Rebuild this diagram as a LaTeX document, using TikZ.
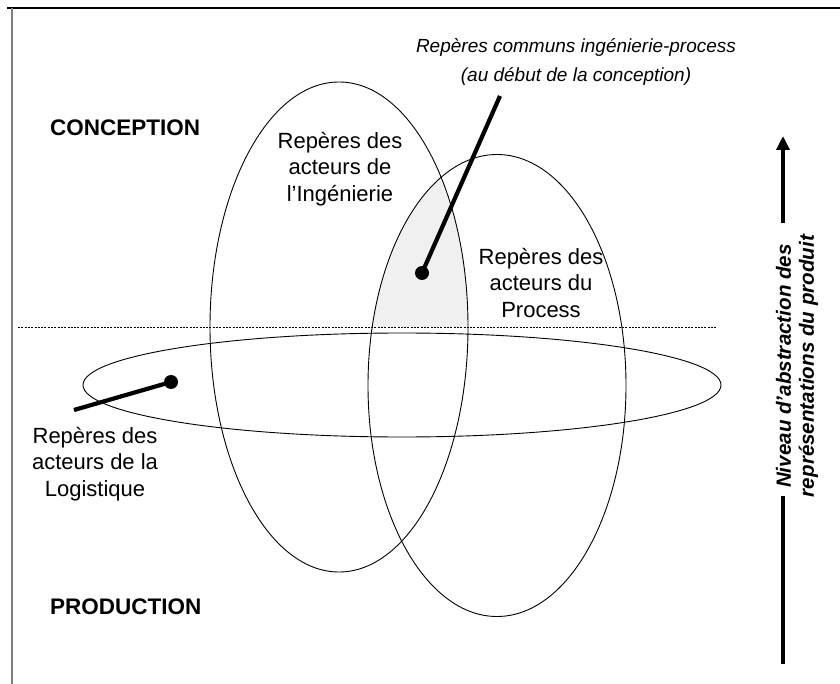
\documentclass[tikz,border=0pt]{standalone}
\usepackage{fontspec}
\setmainfont{Liberation Sans}
\usetikzlibrary{arrows.meta}
\definecolor{shadegray}{HTML}{F0F0F0}
\begin{document}
\begin{tikzpicture}[x=1pt,y=-1pt,
  ell/.style={draw, line width=0.9pt},
  lbl/.style={align=center, font=\fontsize{22}{26.3}\selectfont, inner sep=0pt},
  big/.style={font=\bfseries\fontsize{22.5}{26}\selectfont, inner sep=0pt, anchor=west},
  dot/.style={circle, fill=black, minimum size=14pt, inner sep=0pt},
  pointer/.style={line width=4.2pt},
  sep/.style={line width=0.9pt, dash pattern=on 2pt off 1.3pt},
  axis/.style={line width=3.4pt}]
\useasboundingbox (0,0) rectangle (840,684);
% frame
\coordinate (f1) at (7,8); \coordinate (f2) at (840,8);
\coordinate (f3) at (12,8); \coordinate (f4) at (12,684);
\draw[line width=1.2pt] (f1) -- (f2);
\draw[gray, line width=1.4pt] (f3) -- (f4);
% shaded common region
\begin{scope}
  \clip (339,327) ellipse [x radius=129pt, y radius=245pt];
  \clip (497,385.5) ellipse [x radius=129pt, y radius=231pt];
  \fill[shadegray] (300,100) rectangle (520,327);
\end{scope}
% ellipses
\draw[ell] (339,327) ellipse [x radius=129pt, y radius=245pt];
\draw[ell] (497,385.5) ellipse [x radius=129pt, y radius=231pt];
\draw[ell] (402,385) ellipse [x radius=319pt, y radius=52pt];
% dashed separator
\coordinate (s1) at (18,327); \coordinate (s2) at (716,327);
\draw[sep] (s1) -- (s2);
% labels
\node[big] (conc) at (50,128) {CONCEPTION};
\node[big] (prod) at (50,607) {PRODUCTION};
\node[lbl] (ing) at (340,169) {Repères des\\acteurs de\\l’Ingénierie};
\node[lbl] (pro) at (541,283) {Repères des\\acteurs du\\Process};
\node[lbl] (log) at (95,464) {Repères des\\acteurs de la\\Logistique};
\node[align=center, inner sep=0pt, font=\itshape\fontsize{19}{28.5}\selectfont] (com) at (576,62) {Repères communs ingénierie-process\\(au début de la conception)};
% pointers
\node[dot] (d1) at (422,273) {};
\coordinate (p1) at (500,96);
\draw[pointer] (d1.center) -- (p1);
\node[dot] (d2) at (171,382) {};
\coordinate (p2) at (74,410);
\draw[pointer] (d2.center) -- (p2);
% axis
\coordinate (a1) at (783,223); \coordinate (a2) at (783,136);
\coordinate (a3) at (783,496); \coordinate (a4) at (783,664);
\draw[axis, -{Triangle[width=13pt,length=14pt]}] (a1) -- (a2);
\draw[axis] (a3) -- (a4);
\node[rotate=90, align=center, inner sep=0pt, font=\bfseries\itshape\fontsize{20.6}{23}\selectfont] (niv) at (797,366) {Niveau d’abstraction des\\représentations du produit};
\end{tikzpicture}
\end{document}
